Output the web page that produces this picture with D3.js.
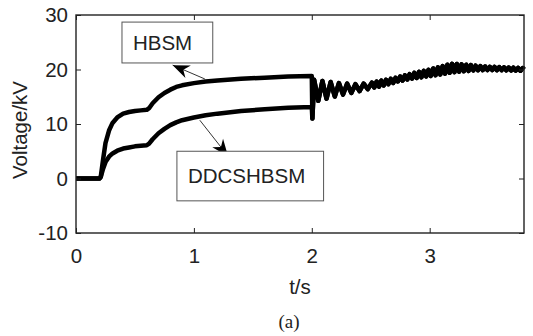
<!DOCTYPE html>
<html>
<head>
<meta charset="utf-8">
<script src="https://cdn.jsdelivr.net/npm/d3@7"></script>
<style>
  body { margin: 0; background: #fff; }
  text { font-family: Arial, "Liberation Sans", sans-serif; fill: #222; }
</style>
</head>
<body>
<div id="canva"></div>
<script>
// charging phase, shared time base (s)
const tStart = [0, 0.2, 0.21, 0.23, 0.25, 0.28, 0.31, 0.35, 0.4, 0.45, 0.5, 0.55, 0.6, 0.62, 0.65, 0.7, 0.75, 0.8, 0.85, 0.9, 1.0, 1.1, 1.2, 1.4, 1.6, 1.8, 2.0, 2.005];
const hbsmStart = [0, 0, 0.3, 3.5, 6.5, 8.8, 10.2, 11.2, 11.9, 12.2, 12.4, 12.5, 12.6, 12.9, 13.8, 14.9, 15.7, 16.3, 16.8, 17.1, 17.5, 17.8, 18.0, 18.3, 18.5, 18.7, 18.8, 11.0];
const ddcStart = [0, 0, 0.3, 1.8, 3.0, 4.0, 4.6, 5.1, 5.5, 5.7, 5.9, 6.0, 6.1, 6.4, 7.2, 8.3, 9.1, 9.8, 10.3, 10.7, 11.2, 11.6, 11.9, 12.4, 12.7, 13.0, 13.1, 11.0];

// after t = 2 s both curves overlap (oscillating)
const tTail = [2.02, 2.055, 2.09, 2.125, 2.16, 2.195, 2.23, 2.265, 2.3, 2.335, 2.37, 2.405, 2.44, 2.475, 2.51,
  2.53, 2.55, 2.57, 2.59, 2.61, 2.63, 2.65, 2.67, 2.69, 2.71, 2.73, 2.75, 2.77, 2.79, 2.81, 2.83, 2.85, 2.87, 2.89,
  2.91, 2.93, 2.95, 2.97, 2.99, 3.01, 3.03, 3.05, 3.07, 3.09, 3.11, 3.13, 3.15, 3.17, 3.19, 3.21, 3.23, 3.25, 3.27,
  3.29, 3.31, 3.33, 3.35, 3.37, 3.39, 3.41, 3.43, 3.45, 3.47, 3.49, 3.51, 3.53, 3.55, 3.57, 3.59, 3.61, 3.63, 3.65,
  3.67, 3.69, 3.71, 3.73, 3.75, 3.77, 3.79, 3.8];
const vTail = [18.1, 14.25, 17.9, 14.65, 17.7, 15.05, 17.5, 15.4, 17.4, 15.7, 17.3, 16.05, 17.4, 16.4, 17.6,
  16.7, 17.8, 16.85, 17.95, 17.08, 18.1, 17.3, 18.28, 17.53, 18.46, 17.8, 18.7, 17.99, 18.92, 18.17, 19.14, 18.34, 19.38, 18.45,
  19.56, 18.57, 19.75, 18.73, 19.95, 18.83, 20.19, 18.95, 20.38, 19.1, 20.63, 19.24, 20.88, 19.4, 21.03, 19.52, 21.02, 19.61, 20.95,
  19.68, 20.88, 19.75, 20.8, 19.84, 20.7, 19.87, 20.62, 19.89, 20.55, 19.9, 20.5, 19.9, 20.47, 19.89, 20.44, 19.88, 20.4, 19.86,
  20.36, 19.83, 20.33, 19.81, 20.3, 19.78, 20.27, 20.0];

const xTicks = [0, 1, 2, 3];
const yTicks = [-10, 0, 10, 20, 30];

// annotations: label, box corners [t0, v0, t1, v1], arrow from -> to
const notes = [
  { label: "HBSM", box: [0.39, 28.7, 1.16, 21.2], from: [1.093, 18.26], to: [0.82, 20.8] },
  { label: "DDCSHBSM", box: [0.856, 5.0, 2.1, -4.1], from: [1.05, 10.7], to: [1.29, 4.1] }
];

const width = 533, height = 336;
const margin = { top: 15, right: 9, bottom: 103, left: 76 };
const iwidth = width - margin.left - margin.right;
const iheight = height - margin.top - margin.bottom;

const svg = d3.select("#canva").append("svg")
  .attr("width", width)
  .attr("height", height);

const g = svg.append("g").attr("transform", `translate(${margin.left},${margin.top})`);

const x = d3.scaleLinear().domain([0, 3.8]).range([0, iwidth]);
const y = d3.scaleLinear().domain([-10, 30]).range([iheight, 0]);

const line = d3.line().x(d => x(d[0])).y(d => y(d[1]));

const tail = tTail.map((t, i) => [t, vTail[i]]);
const hbsm = tStart.map((t, i) => [t, hbsmStart[i]]).concat(tail);
const ddc = tStart.map((t, i) => [t, ddcStart[i]]).concat(tail);

[ddc, hbsm].forEach(s => {
  g.append("path")
    .datum(s)
    .attr("d", line)
    .attr("fill", "none")
    .attr("stroke", "#000")
    .attr("stroke-width", 4.5)
    .attr("stroke-linejoin", "round");
});

// axes, ticks pointing inward
const fs = "20.5px";
const ax = g.append("g").attr("transform", `translate(0,${iheight})`)
  .call(d3.axisBottom(x).tickValues(xTicks).tickFormat(d => String(d)).tickSizeInner(-5).tickSizeOuter(0).tickPadding(15));
const ay = g.append("g")
  .call(d3.axisLeft(y).tickValues(yTicks).tickFormat(d => String(d)).tickSizeInner(-5).tickSizeOuter(0).tickPadding(8));
const axT = g.append("g")
  .call(d3.axisTop(x).tickValues(xTicks).tickSizeInner(-5).tickSizeOuter(0).tickFormat(""));
const ayR = g.append("g").attr("transform", `translate(${iwidth},0)`)
  .call(d3.axisRight(y).tickValues(yTicks).tickSizeInner(-5).tickSizeOuter(0).tickFormat(""));

[ax, ay, axT, ayR].forEach(a => {
  a.select(".domain").remove();
  a.selectAll("line").attr("stroke", "#222");
  a.selectAll("text").style("font-size", fs).attr("fill", "#222");
});

g.append("rect")
  .attr("width", iwidth)
  .attr("height", iheight)
  .attr("fill", "none")
  .attr("stroke", "#222")
  .attr("stroke-width", 1.4);

// annotation boxes and arrows
svg.append("defs").append("marker")
  .attr("id", "head")
  .attr("markerUnits", "userSpaceOnUse")
  .attr("markerWidth", 20).attr("markerHeight", 20)
  .attr("refX", 0).attr("refY", 0)
  .attr("viewBox", "-17 -8 19 16")
  .attr("orient", "auto")
  .append("path")
  .attr("d", "M0,0 L-16,-6.5 L-11,0 L-16,6.5 Z")
  .attr("fill", "#000");

notes.forEach(n => {
  const [t0, v0, t1, v1] = n.box;
  g.append("line")
    .attr("x1", x(n.from[0])).attr("y1", y(n.from[1]))
    .attr("x2", x(n.to[0])).attr("y2", y(n.to[1]))
    .attr("stroke", "#000").attr("stroke-width", 0.8)
    .attr("marker-end", "url(#head)");
  g.append("rect")
    .attr("x", x(t0)).attr("y", y(v0))
    .attr("width", x(t1) - x(t0)).attr("height", y(v1) - y(v0))
    .attr("fill", "#fff").attr("stroke", "#555").attr("stroke-width", 1);
  g.append("text")
    .attr("x", x(t0) + 11)
    .attr("y", (y(v0) + y(v1)) / 2)
    .attr("dy", "0.36em")
    .style("font-size", fs)
    .text(n.label);
});

svg.append("text")
  .attr("transform", `translate(27,130) rotate(-90)`)
  .attr("text-anchor", "middle")
  .style("font-size", fs)
  .text("Voltage/kV");

svg.append("text")
  .attr("x", 300).attr("y", 294)
  .attr("text-anchor", "middle")
  .style("font-size", fs)
  .text("t/s");

svg.append("text")
  .attr("x", 289).attr("y", 328)
  .attr("text-anchor", "middle")
  .style("font-family", "'Times New Roman', 'Liberation Serif', serif")
  .style("font-size", "19px")
  .text("(a)");
</script>
</body>
</html>
